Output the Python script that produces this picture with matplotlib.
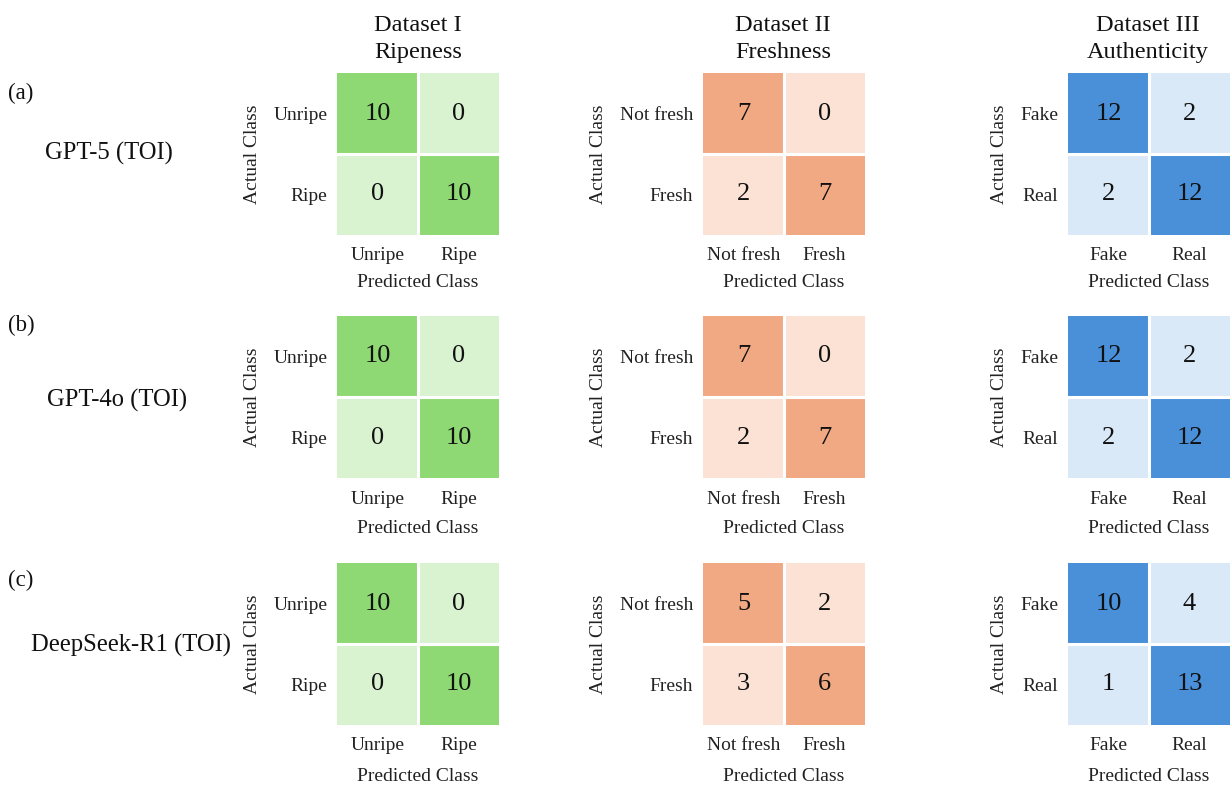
import numpy as np
import matplotlib
matplotlib.use("Agg")
import matplotlib.pyplot as plt
from matplotlib.colors import ListedColormap

plt.rcParams['font.family'] = ['Liberation Serif', 'DejaVu Serif']

# ---------------- data ----------------
models = ["GPT-5 (TOI)", "GPT-4o (TOI)", "DeepSeek-R1 (TOI)"]
panel_tags = ["(a)", "(b)", "(c)"]
dataset_titles = ["Dataset I\nRipeness", "Dataset II\nFreshness", "Dataset III\nAuthenticity"]
labels_ripeness = ["Unripe", "Ripe"]
labels_freshness = ["Not fresh", "Fresh"]
labels_authenticity = ["Fake", "Real"]

ripeness_gpt5 = [[10, 0], [0, 10]]
ripeness_gpt4o = [[10, 0], [0, 10]]
ripeness_deepseek = [[10, 0], [0, 10]]

freshness_gpt5 = [[7, 0], [2, 7]]
freshness_gpt4o = [[7, 0], [2, 7]]
freshness_deepseek = [[5, 2], [3, 6]]

authenticity_gpt5 = [[12, 2], [2, 12]]
authenticity_gpt4o = [[12, 2], [2, 12]]
authenticity_deepseek = [[10, 4], [1, 13]]

matrices = [
    [ripeness_gpt5, freshness_gpt5, authenticity_gpt5],
    [ripeness_gpt4o, freshness_gpt4o, authenticity_gpt4o],
    [ripeness_deepseek, freshness_deepseek, authenticity_deepseek],
]
col_labels = [labels_ripeness, labels_freshness, labels_authenticity]
col_colors = [("#d9f2d0", "#8ed973"), ("#fbe2d5", "#f1a983"), ("#dae9f8", "#4a90d9")]

# ---------------- layout ----------------
W, H = 1231, 785
fig = plt.figure(figsize=(W / 100, H / 100), dpi=100)

col_left = [337, 703, 1068]
row_top = [73, 316, 563]
size_w, size_h = 162, 162
xlabel_pad = [7, 9, 9.5]

for r in range(3):
    for c in range(3):
        x0, y0 = col_left[c], row_top[r]
        ax = fig.add_axes([x0 / W, 1 - (y0 + size_h) / H, size_w / W, size_h / H])
        m = np.array(matrices[r][c])
        diag = np.eye(2)
        cmap = ListedColormap(list(col_colors[c]))
        ax.imshow(diag, cmap=cmap, vmin=0, vmax=1, aspect='auto')
        for i in range(2):
            for j in range(2):
                ax.text(j, i, str(m[i, j]), ha='center', va='center', fontsize=19, color='#111111')
        ax.axhline(0.5, color='white', lw=2.2)
        ax.axvline(0.5, color='white', lw=2.2)
        ax.set_xticks([0, 1])
        ax.set_yticks([0, 1])
        ax.set_xticklabels(col_labels[c], fontsize=14, color='#222222')
        ax.set_yticklabels(col_labels[c], fontsize=14, color='#222222')
        ax.tick_params(length=0, pad=7)
        ax.tick_params(axis='x', pad=9)
        ax.set_xlabel("Predicted Class", fontsize=14, labelpad=xlabel_pad[r], color='#222222')
        ax.set_ylabel("Actual Class", fontsize=14, labelpad=9, color='#222222')
        for s in ax.spines.values():
            s.set_visible(False)

col_center = [418, 783, 1148]
for c in range(3):
    fig.text(col_center[c] / W, 1 - 39 / H, dataset_titles[c], ha='center', va='center',
             fontsize=17.5, linespacing=1.35, color='#111111')

tag_y = [93, 325, 580]
model_y = [153, 400, 645]
model_x = [109, 117, 131]
for r in range(3):
    fig.text(8 / W, 1 - tag_y[r] / H, panel_tags[r], ha='left', va='center', fontsize=16.5,
             color='#111111')
    fig.text(model_x[r] / W, 1 - model_y[r] / H, models[r], ha='center', va='center',
             fontsize=17.7, color='#111111')

fig.savefig("out.png", dpi=100, facecolor='white')
